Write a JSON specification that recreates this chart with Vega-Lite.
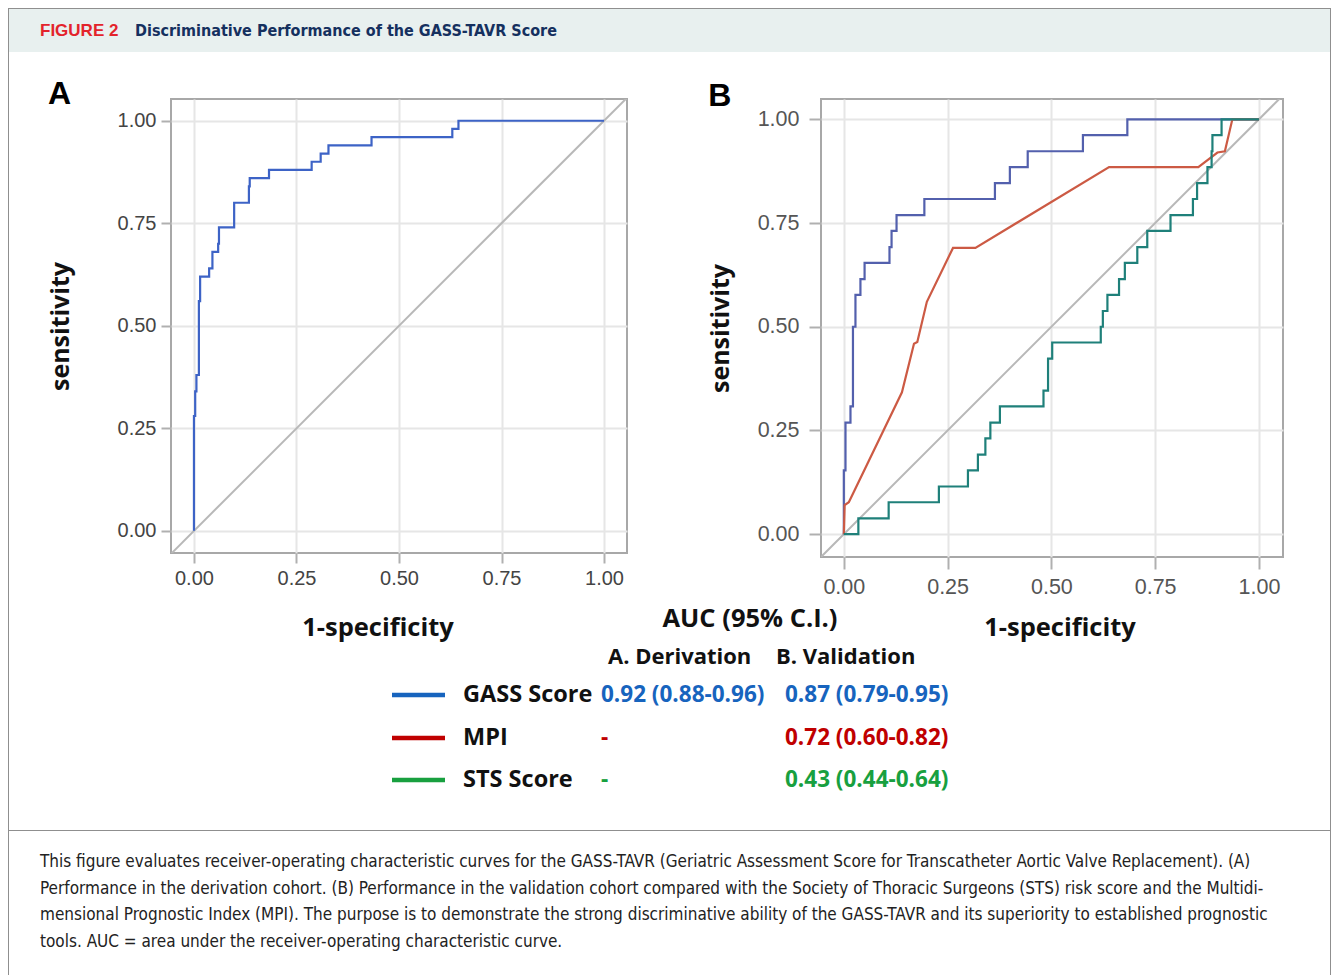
{
  "$schema": "https://vega.github.io/schema/vega-lite/v6.json",
  "padding": {"left": 8, "top": 8, "right": 0, "bottom": 0},
  "background": "white",
  "config": {"view": {"stroke": null}, "font": "Liberation Sans"},
  "datasets": {
    "diag": [{"fpr": -0.08, "sens": -0.08}, {"fpr": 1.08, "sens": 1.08}],
    "rocA": [
      {"i": 0, "fpr": 0, "sens": 0}, {"i": 1, "fpr": 0, "sens": 0.28}, {"i": 2, "fpr": 0.003, "sens": 0.34},
      {"i": 3, "fpr": 0.006, "sens": 0.38}, {"i": 4, "fpr": 0.012, "sens": 0.56}, {"i": 5, "fpr": 0.015, "sens": 0.62},
      {"i": 6, "fpr": 0.037, "sens": 0.64}, {"i": 7, "fpr": 0.045, "sens": 0.68}, {"i": 8, "fpr": 0.059, "sens": 0.70},
      {"i": 9, "fpr": 0.061, "sens": 0.74}, {"i": 10, "fpr": 0.098, "sens": 0.80}, {"i": 11, "fpr": 0.134, "sens": 0.84},
      {"i": 12, "fpr": 0.136, "sens": 0.86}, {"i": 13, "fpr": 0.183, "sens": 0.88}, {"i": 14, "fpr": 0.287, "sens": 0.90},
      {"i": 15, "fpr": 0.309, "sens": 0.92}, {"i": 16, "fpr": 0.328, "sens": 0.94}, {"i": 17, "fpr": 0.433, "sens": 0.96},
      {"i": 18, "fpr": 0.63, "sens": 0.98}, {"i": 19, "fpr": 0.645, "sens": 1.0}, {"i": 20, "fpr": 1.0, "sens": 1.0}
    ],
    "gassB": [
      {"i": 0, "fpr": 0, "sens": 0}, {"i": 1, "fpr": 0, "sens": 0.154}, {"i": 2, "fpr": 0.004, "sens": 0.269},
      {"i": 3, "fpr": 0.016, "sens": 0.308}, {"i": 4, "fpr": 0.022, "sens": 0.5}, {"i": 5, "fpr": 0.028, "sens": 0.577},
      {"i": 6, "fpr": 0.040, "sens": 0.615}, {"i": 7, "fpr": 0.050, "sens": 0.654}, {"i": 8, "fpr": 0.110, "sens": 0.692},
      {"i": 9, "fpr": 0.115, "sens": 0.731}, {"i": 10, "fpr": 0.127, "sens": 0.769}, {"i": 11, "fpr": 0.194, "sens": 0.808},
      {"i": 12, "fpr": 0.364, "sens": 0.846}, {"i": 13, "fpr": 0.400, "sens": 0.885}, {"i": 14, "fpr": 0.443, "sens": 0.923},
      {"i": 15, "fpr": 0.576, "sens": 0.962}, {"i": 16, "fpr": 0.683, "sens": 1.0}, {"i": 17, "fpr": 1.0, "sens": 1.0}
    ],
    "mpiB": [
      {"i": 0, "fpr": 0, "sens": 0}, {"i": 1, "fpr": 0.002, "sens": 0.07}, {"i": 2, "fpr": 0.012, "sens": 0.077},
      {"i": 3, "fpr": 0.14, "sens": 0.342}, {"i": 4, "fpr": 0.169, "sens": 0.459}, {"i": 5, "fpr": 0.177, "sens": 0.463},
      {"i": 6, "fpr": 0.2, "sens": 0.56}, {"i": 7, "fpr": 0.263, "sens": 0.69}, {"i": 8, "fpr": 0.317, "sens": 0.69},
      {"i": 9, "fpr": 0.639, "sens": 0.885}, {"i": 10, "fpr": 0.854, "sens": 0.885}, {"i": 11, "fpr": 0.9, "sens": 0.92},
      {"i": 12, "fpr": 0.918, "sens": 0.923}, {"i": 13, "fpr": 0.936, "sens": 1.0}, {"i": 14, "fpr": 1.0, "sens": 1.0}
    ],
    "stsB": [
      {"i": 0, "fpr": 0, "sens": 0}, {"i": 1, "fpr": 0.035, "sens": 0.038}, {"i": 2, "fpr": 0.108, "sens": 0.077},
      {"i": 3, "fpr": 0.229, "sens": 0.115}, {"i": 4, "fpr": 0.299, "sens": 0.154}, {"i": 5, "fpr": 0.323, "sens": 0.192},
      {"i": 6, "fpr": 0.341, "sens": 0.231}, {"i": 7, "fpr": 0.353, "sens": 0.269}, {"i": 8, "fpr": 0.376, "sens": 0.308},
      {"i": 9, "fpr": 0.481, "sens": 0.346}, {"i": 10, "fpr": 0.492, "sens": 0.423}, {"i": 11, "fpr": 0.502, "sens": 0.462},
      {"i": 12, "fpr": 0.619, "sens": 0.5}, {"i": 13, "fpr": 0.624, "sens": 0.538}, {"i": 14, "fpr": 0.635, "sens": 0.577},
      {"i": 15, "fpr": 0.663, "sens": 0.615}, {"i": 16, "fpr": 0.677, "sens": 0.654}, {"i": 17, "fpr": 0.707, "sens": 0.692},
      {"i": 18, "fpr": 0.731, "sens": 0.731}, {"i": 19, "fpr": 0.787, "sens": 0.769}, {"i": 20, "fpr": 0.841, "sens": 0.808},
      {"i": 21, "fpr": 0.851, "sens": 0.846}, {"i": 22, "fpr": 0.876, "sens": 0.885}, {"i": 23, "fpr": 0.886, "sens": 0.923},
      {"i": 24, "fpr": 0.888, "sens": 0.962}, {"i": 25, "fpr": 0.910, "sens": 1.0}, {"i": 26, "fpr": 1.0, "sens": 1.0}
    ],
    "tableTitles": [
      {"row": 0, "col": 6, "text": "AUC (95% C.I.)"},
      {"row": 1, "col": 0, "text": "1-specificity"},
      {"row": 1, "col": 9, "text": "1-specificity"}
    ],
    "tableHeads": [
      {"row": 2, "col": 5, "text": "A. Derivation"},
      {"row": 2, "col": 7, "text": "B. Validation"}
    ],
    "tableNames": [
      {"row": 3, "col": 3, "text": "GASS Score"},
      {"row": 4, "col": 3, "text": "MPI"},
      {"row": 5, "col": 3, "text": "STS Score"}
    ],
    "tableValues": [
      {"row": 3, "col": 4, "series": "GASS Score", "text": "0.92 (0.88-0.96)"},
      {"row": 3, "col": 8, "series": "GASS Score", "text": "0.87 (0.79-0.95)"},
      {"row": 4, "col": 4, "series": "MPI", "text": "-"},
      {"row": 4, "col": 8, "series": "MPI", "text": "0.72 (0.60-0.82)"},
      {"row": 5, "col": 4, "series": "STS Score", "text": "-"},
      {"row": 5, "col": 8, "series": "STS Score", "text": "0.43 (0.44-0.64)"}
    ],
    "tableLines": [
      {"row": 3, "from": 1, "to": 2, "series": "GASS Score"},
      {"row": 4, "from": 1, "to": 2, "series": "MPI"},
      {"row": 5, "from": 1, "to": 2, "series": "STS Score"}
    ],
    "caption": [
      {"line": 0, "text": "This figure evaluates receiver-operating characteristic curves for the GASS-TAVR (Geriatric Assessment Score for Transcatheter Aortic Valve Replacement). (A)"},
      {"line": 1, "text": "Performance in the derivation cohort. (B) Performance in the validation cohort compared with the Society of Thoracic Surgeons (STS) risk score and the Multidi-"},
      {"line": 2, "text": "mensional Prognostic Index (MPI). The purpose is to demonstrate the strong discriminative ability of the GASS-TAVR and its superiority to established prognostic"},
      {"line": 3, "text": "tools. AUC = area under the receiver-operating characteristic curve."}
    ]
  },
  "spacing": 0,
  "vconcat": [
    {
      "width": 1323, "height": 1,
      "view": {"fill": "#8f8f8f", "stroke": null},
      "data": {"values": [{}]},
      "mark": {"type": "text", "fontSize": 0},
      "encoding": {"text": {"value": ""}}
    },
    {
      "spacing": 0,
      "hconcat": [
        {
          "width": 1, "height": 821,
          "view": {"fill": "#8f8f8f", "stroke": null},
          "data": {"values": [{}]},
          "mark": {"type": "text", "fontSize": 0},
          "encoding": {"text": {"value": ""}}
        },
        {
          "spacing": 0,
          "vconcat": [
            {
              "width": 1321, "height": 43,
              "view": {"fill": "#e8f0ef", "stroke": null},
              "layer": [
                {
                  "data": {"values": [{"col": 0, "text": "FIGURE 2"}]},
                  "mark": {"type": "text", "align": "left", "baseline": "middle", "font": "Liberation Sans", "fontWeight": "bold", "fontSize": 17, "letterSpacing": 2.2, "color": "#e3232b"},
                  "encoding": {
                    "x": {"field": "col", "type": "quantitative", "scale": {"domain": [0, 1], "range": [31, 126]}, "axis": null},
                    "text": {"field": "text"}
                  }
                },
                {
                  "data": {"values": [{"col": 1, "text": "Discriminative Performance of the GASS-TAVR Score"}]},
                  "mark": {"type": "text", "align": "left", "baseline": "middle", "font": "DejaVu Sans Condensed", "fontWeight": "bold", "fontSize": 16, "color": "#15305f"},
                  "encoding": {
                    "x": {"field": "col", "type": "quantitative", "scale": {"domain": [0, 1], "range": [31, 126]}, "axis": null},
                    "text": {"field": "text"}
                  }
                }
              ]
            },
            {
              "width": 1, "height": 25,
              "data": {"values": [{}]},
              "mark": {"type": "text", "fontSize": 0},
              "encoding": {"text": {"value": ""}}
            },
            {
              "spacing": 0,
              "hconcat": [
                {
                  "width": 38, "height": 1,
                  "data": {"values": [{}]},
                  "mark": {"type": "text", "fontSize": 0},
                  "encoding": {"text": {"value": ""}}
                },
                {
                  "width": 456, "height": 454,
                  "view": {"stroke": "#a8a8a8", "strokeWidth": 2},
                  "title": {"text": "A", "anchor": "start", "frame": "bounds", "font": "Liberation Sans", "fontSize": 32, "fontWeight": "bold", "color": "#000000", "baseline": "alphabetic", "offset": -37},
                  "encoding": {
                    "x": {"field": "fpr", "type": "quantitative", "scale": {"domain": [-0.056, 1.056], "nice": false, "zero": false},
                      "axis": {"values": [0, 0.25, 0.5, 0.75, 1], "format": ".2f", "title": null, "grid": true, "gridColor": "#e6e6e6", "gridWidth": 2, "domain": false, "tickSize": 10, "tickWidth": 2, "tickColor": "#b0b0b0", "labelFont": "Liberation Sans", "labelFontSize": 20, "labelColor": "#444444", "labelPadding": 5, "labelFlush": false}},
                    "y": {"field": "sens", "type": "quantitative", "scale": {"domain": [-0.054, 1.053], "nice": false, "zero": false},
                      "axis": {"values": [0, 0.25, 0.5, 0.75, 1], "format": ".2f", "title": "sensitivity", "grid": true, "gridColor": "#e6e6e6", "gridWidth": 2, "domain": false, "tickSize": 10, "tickWidth": 2, "tickColor": "#b0b0b0", "labelFont": "Liberation Sans", "labelFontSize": 20, "labelColor": "#444444", "labelPadding": 5, "labelFlush": false, "titleFont": "Open Sans", "titleFontSize": 25, "titleFontWeight": "bold", "titleColor": "#111111", "titlePadding": 44}}
                  },
                  "layer": [
                    {"data": {"name": "diag"}, "mark": {"type": "line", "color": "#b8b8b8", "strokeWidth": 2, "clip": true}},
                    {"data": {"name": "rocA"}, "mark": {"type": "line", "interpolate": "step-after", "color": "#3d63c6", "strokeWidth": 2.2}, "encoding": {"order": {"field": "i", "type": "quantitative"}}}
                  ]
                },
                {
                  "width": 79, "height": 1,
                  "data": {"values": [{}]},
                  "mark": {"type": "text", "fontSize": 0},
                  "encoding": {"text": {"value": ""}}
                },
                {
                  "width": 462, "height": 458,
                  "view": {"stroke": "#a8a8a8", "strokeWidth": 2},
                  "title": {"text": "B", "anchor": "start", "frame": "bounds", "font": "Liberation Sans", "fontSize": 32, "fontWeight": "bold", "color": "#000000", "baseline": "alphabetic", "offset": -39},
                  "encoding": {
                    "x": {"field": "fpr", "type": "quantitative", "scale": {"domain": [-0.055, 1.058], "nice": false, "zero": false},
                      "axis": {"values": [0, 0.25, 0.5, 0.75, 1], "format": ".2f", "title": null, "grid": true, "gridColor": "#e6e6e6", "gridWidth": 2, "domain": false, "tickSize": 12, "tickWidth": 2, "tickColor": "#b0b0b0", "labelFont": "Liberation Sans", "labelFontSize": 21.5, "labelColor": "#555555", "labelPadding": 7, "labelFlush": false}},
                    "y": {"field": "sens", "type": "quantitative", "scale": {"domain": [-0.055, 1.049], "nice": false, "zero": false},
                      "axis": {"values": [0, 0.25, 0.5, 0.75, 1], "format": ".2f", "title": "sensitivity", "grid": true, "gridColor": "#e6e6e6", "gridWidth": 2, "domain": false, "tickSize": 12, "tickWidth": 2, "tickColor": "#b0b0b0", "labelFont": "Liberation Sans", "labelFontSize": 21.5, "labelColor": "#555555", "labelPadding": 10, "labelFlush": false, "titleFont": "Open Sans", "titleFontSize": 25, "titleFontWeight": "bold", "titleColor": "#111111", "titlePadding": 24}}
                  },
                  "layer": [
                    {"data": {"name": "diag"}, "mark": {"type": "line", "color": "#b8b8b8", "strokeWidth": 2, "clip": true}},
                    {"data": {"name": "gassB"}, "mark": {"type": "line", "interpolate": "step-after", "color": "#5360ad", "strokeWidth": 2.2}, "encoding": {"order": {"field": "i", "type": "quantitative"}}},
                    {"data": {"name": "mpiB"}, "mark": {"type": "line", "interpolate": "linear", "color": "#cc5a44", "strokeWidth": 2.2}, "encoding": {"order": {"field": "i", "type": "quantitative"}}},
                    {"data": {"name": "stsB"}, "mark": {"type": "line", "interpolate": "step-after", "color": "#1f807a", "strokeWidth": 2.2}, "encoding": {"order": {"field": "i", "type": "quantitative"}}}
                  ]
                }
              ]
            },
            {
              "width": 1321, "height": 228,
              "encoding": {
                "x": {"field": "col", "type": "quantitative", "scale": {"domain": [0, 1, 2, 3, 4, 5, 6, 7, 8, 9], "range": [369, 383, 436, 454, 592, 599, 741, 767, 776, 1051], "nice": false, "zero": false}, "axis": null},
                "y": {"field": "row", "type": "quantitative", "scale": {"domain": [0, 1, 2, 3, 4, 5], "range": [20, 29, 58, 96, 139, 181], "nice": false, "zero": false}, "axis": null}
              },
              "layer": [
                {
                  "data": {"name": "tableTitles"},
                  "mark": {"type": "text", "align": "center", "baseline": "middle", "font": "Open Sans", "fontWeight": "bold", "fontSize": 25.5, "color": "#111111"},
                  "encoding": {"text": {"field": "text"}}
                },
                {
                  "data": {"name": "tableHeads"},
                  "mark": {"type": "text", "align": "left", "baseline": "middle", "font": "Open Sans", "fontWeight": "bold", "fontSize": 22, "color": "#111111"},
                  "encoding": {"text": {"field": "text"}}
                },
                {
                  "data": {"name": "tableNames"},
                  "mark": {"type": "text", "align": "left", "baseline": "middle", "font": "Open Sans", "fontWeight": "bold", "fontSize": 23.5, "color": "#111111"},
                  "encoding": {"text": {"field": "text"}}
                },
                {
                  "data": {"name": "tableValues"},
                  "mark": {"type": "text", "align": "left", "baseline": "middle", "font": "Open Sans", "fontWeight": "bold", "fontSize": 22.5},
                  "encoding": {
                    "text": {"field": "text"},
                    "color": {"field": "series", "type": "nominal", "scale": {"domain": ["GASS Score", "MPI", "STS Score"], "range": ["#1764be", "#c00000", "#18a03f"]}, "legend": null}
                  }
                },
                {
                  "data": {"name": "tableLines"},
                  "mark": {"type": "rule", "strokeWidth": 4.5},
                  "encoding": {
                    "x": {"field": "from", "type": "quantitative"},
                    "x2": {"field": "to"},
                    "color": {"field": "series", "type": "nominal", "scale": {"domain": ["GASS Score", "MPI", "STS Score"], "range": ["#1764be", "#c00000", "#18a03f"]}, "legend": null}
                  }
                }
              ]
            }
          ]
        },
        {
          "width": 1, "height": 821,
          "view": {"fill": "#8f8f8f", "stroke": null},
          "data": {"values": [{}]},
          "mark": {"type": "text", "fontSize": 0},
          "encoding": {"text": {"value": ""}}
        }
      ]
    },
    {
      "width": 1323, "height": 1,
      "view": {"fill": "#8f8f8f", "stroke": null},
      "data": {"values": [{}]},
      "mark": {"type": "text", "fontSize": 0},
      "encoding": {"text": {"value": ""}}
    },
    {
      "spacing": 0,
      "hconcat": [
        {
          "width": 1, "height": 144,
          "view": {"fill": "#8f8f8f", "stroke": null},
          "data": {"values": [{}]},
          "mark": {"type": "text", "fontSize": 0},
          "encoding": {"text": {"value": ""}}
        },
        {
          "width": 1321, "height": 144,
          "data": {"name": "caption"},
          "mark": {"type": "text", "align": "left", "baseline": "middle", "font": "DejaVu Sans Condensed", "fontSize": 17, "color": "#222222"},
          "encoding": {
            "x": {"datum": 0, "type": "quantitative", "scale": {"domain": [0, 1], "range": [31, 1299]}, "axis": null},
            "y": {"field": "line", "type": "quantitative", "scale": {"domain": [0, 3], "range": [31, 111], "nice": false, "zero": false}, "axis": null},
            "text": {"field": "text"}
          }
        },
        {
          "width": 1, "height": 144,
          "view": {"fill": "#8f8f8f", "stroke": null},
          "data": {"values": [{}]},
          "mark": {"type": "text", "fontSize": 0},
          "encoding": {"text": {"value": ""}}
        }
      ]
    }
  ]
}
